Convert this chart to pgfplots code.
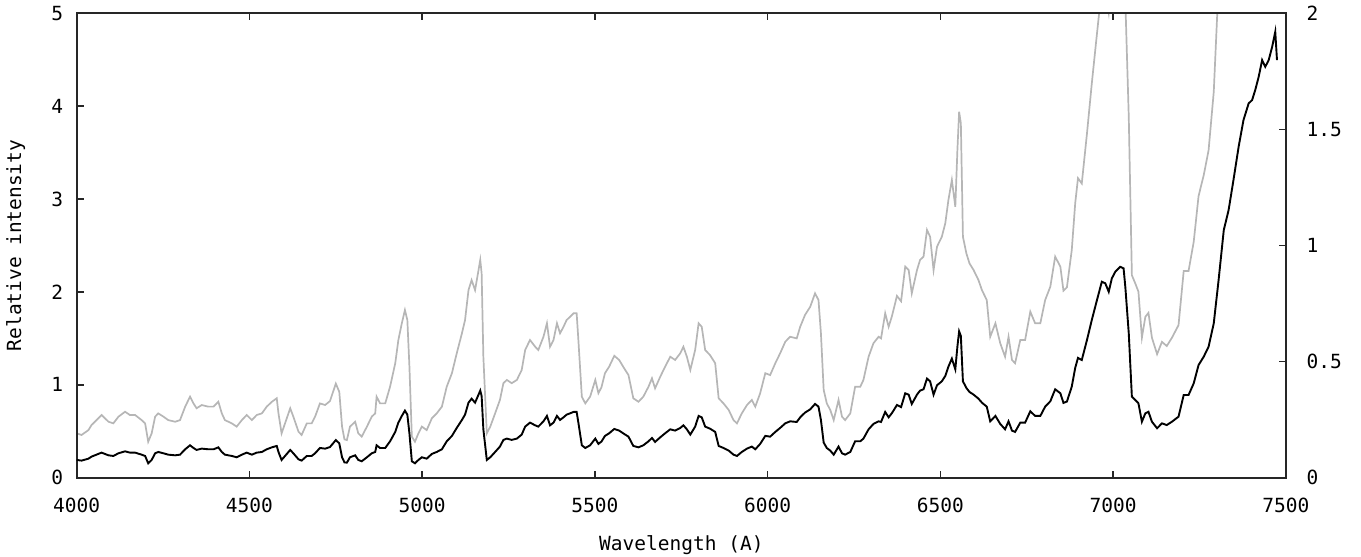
\documentclass[border=0pt]{standalone}
\usepackage{fontspec}
\setmainfont{DejaVu Sans Mono}
\setmonofont{DejaVu Sans Mono}
\usepackage{pgfplots}
\usepackage{pgfplotstable}
\pgfplotsset{compat=1.18}
\definecolor{lgray}{RGB}{182,182,182}
\pgfplotstableread{
lam v
4000 0.191
4014 0.184
4034 0.205
4043 0.227
4072 0.270
4092 0.241
4106 0.234
4121 0.263
4140 0.284
4154 0.270
4169 0.270
4188 0.248
4198 0.234
4207 0.155
4217 0.191
4227 0.263
4236 0.277
4251 0.263
4265 0.248
4285 0.241
4299 0.248
4314 0.306
4328 0.349
4338 0.320
4347 0.299
4362 0.313
4381 0.306
4396 0.306
4410 0.327
4420 0.277
4429 0.248
4449 0.234
4463 0.220
4478 0.248
4492 0.270
4507 0.248
4521 0.270
4536 0.277
4550 0.306
4565 0.327
4579 0.342
4584 0.277
4593 0.191
4603 0.234
4618 0.299
4627 0.263
4642 0.198
4651 0.184
4666 0.234
4680 0.234
4690 0.263
4704 0.320
4719 0.313
4733 0.330
4750 0.405
4760 0.370
4768 0.220
4775 0.165
4782 0.162
4791 0.220
4806 0.241
4815 0.191
4825 0.177
4840 0.220
4854 0.263
4864 0.277
4868 0.349
4878 0.320
4893 0.320
4907 0.392
4922 0.493
4931 0.593
4941 0.665
4950 0.722
4957 0.679
4963 0.478
4970 0.177
4979 0.155
4989 0.191
4999 0.220
5013 0.205
5028 0.256
5042 0.277
5057 0.306
5071 0.392
5086 0.450
5100 0.536
5115 0.622
5124 0.679
5134 0.808
5143 0.851
5153 0.808
5163 0.894
5168 0.938
5172 0.880
5177 0.521
5187 0.191
5197 0.220
5211 0.277
5225 0.335
5235 0.407
5245 0.421
5259 0.407
5274 0.421
5288 0.464
5298 0.550
5312 0.593
5327 0.564
5336 0.550
5351 0.607
5361 0.665
5370 0.564
5380 0.593
5390 0.665
5399 0.622
5409 0.650
5418 0.679
5428 0.693
5438 0.708
5447 0.708
5452 0.593
5462 0.349
5472 0.320
5486 0.349
5501 0.421
5510 0.364
5519 0.390
5529 0.450
5541 0.478
5556 0.525
5570 0.507
5585 0.470
5597 0.442
5611 0.342
5626 0.327
5640 0.349
5655 0.392
5665 0.428
5674 0.385
5689 0.435
5703 0.478
5718 0.521
5732 0.507
5747 0.536
5756 0.564
5766 0.521
5776 0.464
5790 0.550
5800 0.665
5809 0.650
5819 0.550
5833 0.528
5848 0.493
5858 0.342
5872 0.320
5887 0.292
5901 0.248
5911 0.234
5925 0.277
5940 0.313
5954 0.335
5964 0.306
5978 0.363
5993 0.450
6007 0.442
6022 0.493
6036 0.536
6051 0.586
6065 0.607
6084 0.600
6094 0.650
6108 0.701
6123 0.736
6137 0.794
6147 0.765
6154 0.622
6162 0.378
6171 0.320
6181 0.292
6191 0.248
6205 0.335
6215 0.263
6224 0.248
6239 0.277
6253 0.392
6268 0.392
6277 0.421
6292 0.521
6306 0.579
6321 0.607
6328 0.600
6340 0.708
6350 0.650
6359 0.693
6364 0.722
6374 0.783
6386 0.760
6398 0.909
6408 0.894
6417 0.794
6432 0.894
6441 0.938
6451 0.952
6461 1.067
6470 1.038
6480 0.894
6490 0.995
6504 1.038
6514 1.096
6523 1.196
6533 1.282
6543 1.167
6549 1.411
6554 1.576
6559 1.526
6565 1.038
6575 0.966
6584 0.923
6596 0.894
6610 0.851
6620 0.808
6634 0.765
6644 0.607
6659 0.665
6673 0.579
6687 0.521
6697 0.607
6707 0.507
6716 0.493
6731 0.593
6745 0.593
6760 0.715
6774 0.665
6789 0.665
6803 0.765
6818 0.823
6832 0.952
6847 0.909
6856 0.805
6866 0.820
6880 0.980
6890 1.182
6898 1.290
6909 1.267
6924 1.482
6938 1.698
6953 1.913
6967 2.110
6977 2.093
6987 2.002
6996 2.146
7006 2.217
7020 2.271
7030 2.254
7035 2.056
7045 1.554
7054 0.872
7064 0.836
7073 0.801
7083 0.603
7093 0.693
7102 0.710
7112 0.603
7127 0.532
7141 0.585
7155 0.567
7170 0.603
7189 0.657
7204 0.890
7218 0.890
7233 1.016
7247 1.213
7262 1.303
7276 1.410
7291 1.662
7305 2.128
7320 2.666
7334 2.882
7348 3.204
7363 3.563
7377 3.850
7392 4.030
7402 4.066
7411 4.173
7421 4.316
7431 4.496
7440 4.424
7450 4.496
7460 4.639
7469 4.801
7474 4.496
}\spec
\begin{document}
\fontsize{19.5}{22}\selectfont
\begin{tikzpicture}
\useasboundingbox (-76.7pt,-79.3pt) rectangle (1284.3pt,477.7pt);
\pgfplotsset{
  common/.style={
    scale only axis, width=1209.3pt, height=464.4pt,
    at={(0,0)}, anchor=south west,
    xmin=4000, xmax=7500,
    axis line style={line width=2pt, black!85},
    tick style={line width=1.5pt, black!85},
    major tick length=7pt,
    tick align=inside,
    /pgf/number format/assume math mode=true,
    /pgf/number format/set thousands separator={},
    tick label style={font=\fontsize{19.5}{22}\selectfont},
    label style={font=\fontsize{19.5}{22}\selectfont},
  }
}
\begin{axis}[common,
  ymin=0, ymax=2,
  xtick=\empty,
  ytick={0,0.5,1,1.5,2},
  ytick pos=right, yticklabel pos=right,
  yticklabel style={anchor=west, xshift=14pt},
]
\addplot[lgray, line width=1.7pt] table[x=lam, y=v] {\spec};
\end{axis}
\begin{axis}[common,
  ymin=0, ymax=5,
  xtick={4000,4500,...,7500},
  ytick={0,1,2,3,4,5},
  xtick pos=both, xticklabel pos=lower,
  ytick pos=left, yticklabel pos=left,
  xticklabel style={anchor=north, yshift=-14pt},
  yticklabel style={anchor=east, xshift=-7pt},
  xlabel={Wavelength (A)},
  ylabel={Relative intensity},
  every axis x label/.style={at={(axis description cs:0.5,0)}, yshift=-67pt, anchor=center},
  every axis y label/.style={at={(axis description cs:0,0.5)}, xshift=-61pt, rotate=90, anchor=center},
]
\addplot[black, line width=1.9pt] table[x=lam, y=v] {\spec};
\end{axis}
\end{tikzpicture}
\end{document}
